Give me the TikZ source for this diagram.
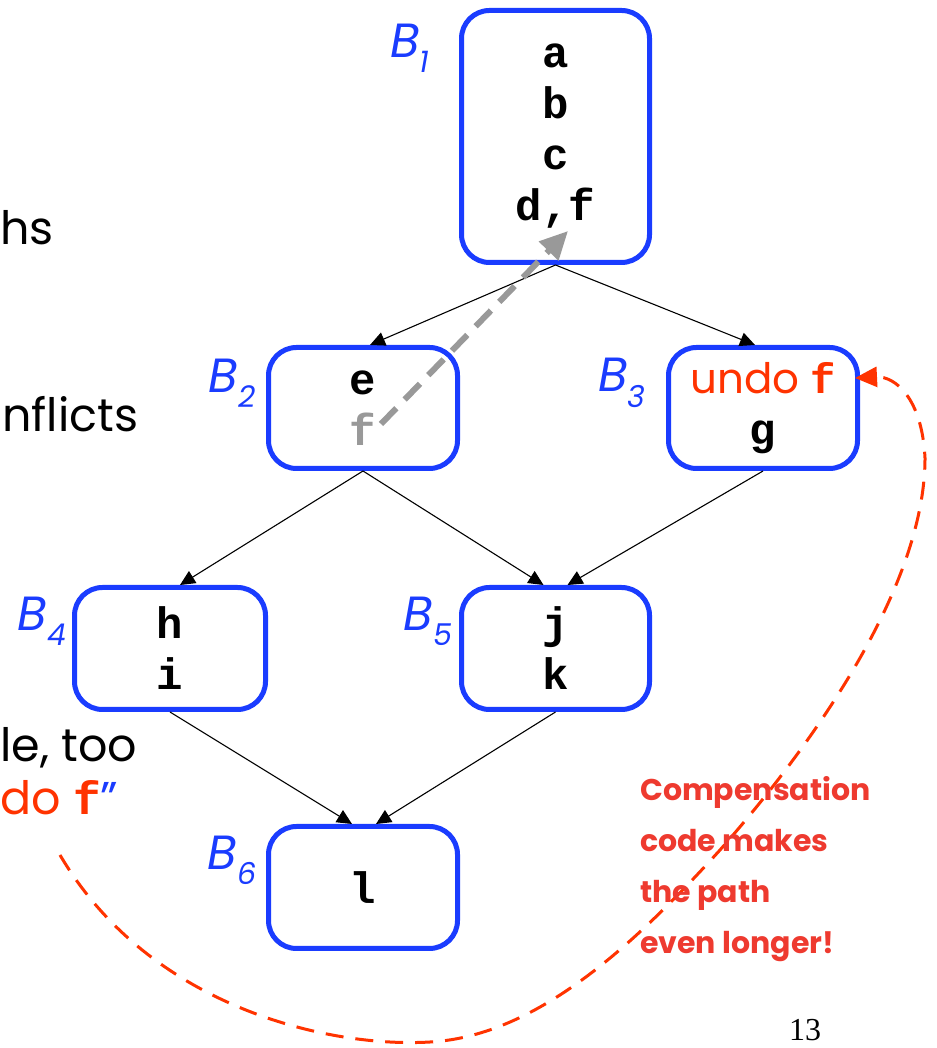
\documentclass[tikz,border=0pt]{standalone}
\usepackage{fontspec}
\setmainfont{Poppins}
\setmonofont{Liberation Mono}
\newfontfamily\pagefont{Liberation Serif}
\usepackage{xcolor}
\usetikzlibrary{arrows.meta, positioning}
\definecolor{kblue}{HTML}{1A3CFF}
\definecolor{kred}{HTML}{FF3300}
\definecolor{kredtext}{HTML}{EE3A2F}
\definecolor{kgray}{HTML}{999999}

\begin{document}
\begin{tikzpicture}[x=1pt, y=1pt,
  blk/.style={draw=kblue, line width=5pt, rounded corners=28pt, fill=white,
    align=center, inner sep=0pt, font=\fontsize{44}{51}\selectfont\ttfamily\bfseries},
  blklabel/.style={text=kblue, font=\fontsize{48}{48}\selectfont\itshape, inner sep=0pt},
  flow/.style={-{Triangle[length=15pt, width=14pt]}, line width=1.1pt},
  slidetxt/.style={anchor=base west, inner sep=0pt, font=\fontsize{46}{50}\selectfont}]
\useasboundingbox (0,0) rectangle (936,1048);

% basic blocks
\node[blk, minimum width=188pt, minimum height=252pt] (b1) at (555.5,911.5) {a\\b\\c\\d,f};
\node[blk, minimum width=189pt, minimum height=121pt] (b2) at (363,640) {e\\\color{kgray}f};
\node[blk, minimum width=189pt, minimum height=121pt] (b3) at (763,640)
  {{\color{kred}\rmfamily\mdseries\fontsize{42}{51}\selectfont undo \ttfamily\bfseries f}\\g};
\node[blk, minimum width=191pt, minimum height=122pt] (b4) at (170,399.5) {h\\i};
\node[blk, minimum width=188pt, minimum height=122pt] (b5) at (555.5,399.5) {j\\k};
\node[blk, minimum width=189pt, minimum height=122pt] (b6) at (363,160.5) {l};

% block names
\node[blklabel] (l1) at (410,1000) {B\raisebox{-0.32em}{\fontsize{30}{30}\selectfont 1}};
\node[blklabel] (l2) at (232,665) {B\raisebox{-0.32em}{\fontsize{30}{30}\selectfont 2}};
\node[blklabel] (l3) at (622,665) {B\raisebox{-0.32em}{\fontsize{30}{30}\selectfont 3}};
\node[blklabel] (l4) at (42,427) {B\raisebox{-0.32em}{\fontsize{30}{30}\selectfont 4}};
\node[blklabel] (l5) at (428,427) {B\raisebox{-0.32em}{\fontsize{30}{30}\selectfont 5}};
\node[blklabel] (l6) at (232,188) {B\raisebox{-0.32em}{\fontsize{30}{30}\selectfont 6}};

% control flow
\draw[flow] (b1.south) -- ([xshift=7pt]b2.north);
\draw[flow] (b1.south) -- ([xshift=-8pt]b3.north);
\draw[flow] (b2.south) -- ([xshift=10pt]b4.north);
\draw[flow] (b2.south) -- ([xshift=-12pt]b5.north);
\draw[flow] (b3.south) -- ([xshift=12pt]b5.north);
\draw[flow] (b4.south) -- ([xshift=-11pt]b6.north);
\draw[flow] (b5.south) -- ([xshift=13pt]b6.north);

% moved instruction
\coordinate (fold) at (381,624);
\coordinate (fnew) at (568,817);
\draw[kgray, line width=6pt, dash pattern=on 22pt off 12pt,
  -{Triangle[length=28pt, width=26pt]}] (fold) -- (fnew);

% slide text at the left edge
\node[slidetxt] (t1) at (0,803) {hs};
\node[slidetxt] (t2) at (2,616) {nflicts};
\node[slidetxt] (t3) at (0,286) {le, too};
\node[slidetxt] (t4) at (0,233)
  {\color{kred}do {\ttfamily\bfseries f}\color{kblue}''};

% compensation code
\coordinate (undostart) at (60,193);
\coordinate (undoend) at (855,670);
\draw[kred, line width=3pt, dash pattern=on 18pt off 12pt,
  -{Triangle[length=22pt, width=20pt]}]
  (undostart) .. controls (150,40) and (330,0) .. (430,6)
  .. controls (540,12) and (640,110) .. (720,198)
  .. controls (810,300) and (925,460) .. (925,590)
  .. controls (922,650) and (895,672) .. (undoend);
\node[anchor=north west, align=left, inner sep=0pt, text=kredtext,
  font=\fontsize{30}{51}\selectfont\bfseries] (comp) at (640,272)
  {Compensation\\code makes\\the path\\even longer!};

\node[font=\fontsize{32}{32}\selectfont\pagefont, inner sep=0pt] (page) at (805,18) {13};
\end{tikzpicture}
\end{document}
